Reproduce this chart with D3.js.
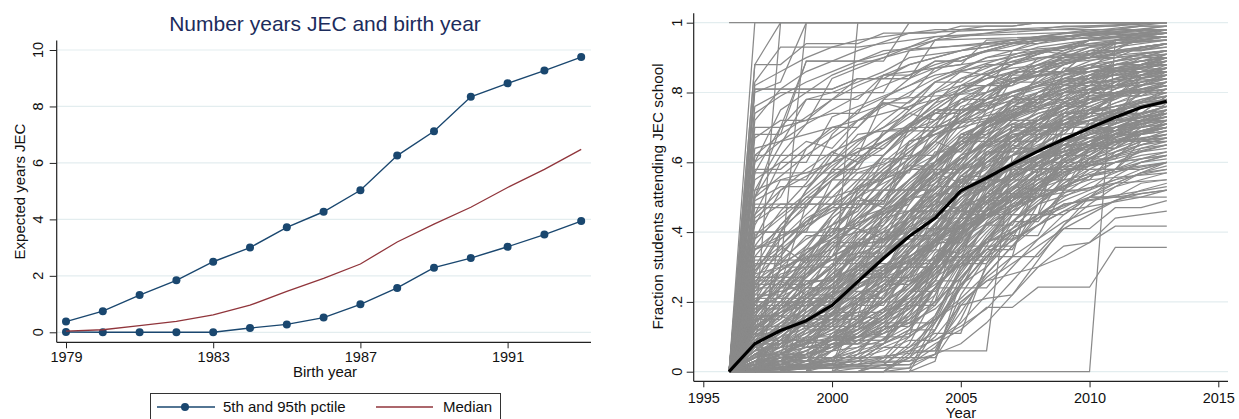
<!DOCTYPE html>
<html>
<head>
<meta charset="utf-8">
<title>JEC charts</title>
<script src="https://d3js.org/d3.v7.min.js"></script>
<style>
  body { margin: 0; background: #fff; }
  text { font-family: "Liberation Sans", Arial, Helvetica, sans-serif; }
</style>
</head>
<body>
<script>
// ---- left panel data ----
var birthYears = [1979, 1980, 1981, 1982, 1983, 1984, 1985, 1986, 1987, 1988, 1989, 1990, 1991, 1992, 1993];
var pct95 = [0.38, 0.75, 1.32, 1.84, 2.50, 3.00, 3.72, 4.27, 5.03, 6.26, 7.12, 8.34, 8.82, 9.27, 9.75];
var pct5 = [0.01, 0.00, 0.00, 0.00, 0.00, 0.15, 0.28, 0.52, 0.99, 1.57, 2.29, 2.63, 3.03, 3.46, 3.94];
var median = [0.04, 0.09, 0.24, 0.39, 0.62, 0.96, 1.45, 1.91, 2.42, 3.20, 3.83, 4.43, 5.13, 5.77, 6.48];
var leftYTicks = [0, 2, 4, 6, 8, 10];
var leftXTicks = [1979, 1983, 1987, 1991];

// ---- right panel data ----
var years = [1996, 1997, 1998, 1999, 2000, 2001, 2002, 2003, 2004, 2005, 2006, 2007, 2008, 2009, 2010, 2011, 2012, 2013];
var meanFraction = [0, 0.08, 0.118, 0.146, 0.19, 0.258, 0.325, 0.388, 0.44, 0.518, 0.555, 0.595, 0.632, 0.666, 0.698, 0.729, 0.757, 0.775];
var rightYTicks = [0, 0.2, 0.4, 0.6, 0.8, 1];
var rightYLabels = ["0", ".2", ".4", ".6", ".8", "1"];
var rightXTicks = [1995, 2000, 2005, 2010, 2015];

// schools given by change points: "yy value yy value ..." (two digit years)
var schools = [
  "96 1 13 1",
  "96 0 97 1 13 1",
  "96 0 97 .88 98 1 13 1",
  "96 0 97 .81 00 .81 01 .84 03 .84 04 .95 13 .97",
  "96 0 97 .8 98 .83 99 1 13 1",
  "96 0 97 .76 98 .8 02 .8 03 .92 07 .95 13 .98",
  "96 0 97 .68 98 .68 99 .89 02 .89 03 1 13 1",
  "96 0 97 .57 98 .7 00 .74 01 .74 02 .85 05 .88 06 .95 13 .96",
  "96 0 97 .45 98 .6 99 .6 00 .73 02 .79 04 .85 08 .9 13 .93",
  "96 0 97 .38 98 .52 00 .6 01 .68 03 .7 04 .8 06 .84 10 .9 13 .92",
  "96 0 97 .33 98 .33 99 .43 00 .5 02 .55 03 .66 05 .7 07 .8 10 .85 13 .88",
  "96 0 97 .3 98 .42 99 .5 00 .5 01 .57 03 .62 04 .7 08 .75 11 .8 13 .82",
  "96 0 97 .27 99 .27 00 .38 02 .42 03 .52 05 .61 07 .7 09 .74 11 .8 13 .84",
  "96 0 97 .25 98 .3 00 .35 01 .44 04 .52 05 .58 08 .64 10 .68 13 .71",
  "96 0 97 .22 98 .22 99 .34 00 .4 03 .48 04 .6 06 .7 09 .78 13 .86",
  "96 0 97 .2 98 .28 00 .32 02 .36 03 .45 05 .55 07 .62 09 .66 13 .7",
  "96 0 97 .18 99 .25 00 .3 01 .4 02 .45 04 .55 05 .68 08 .78 11 .86 13 .9",
  "96 0 97 .16 98 .16 99 .23 01 .3 02 .38 04 .45 06 .5 08 .58 11 .6 13 .62",
  "96 0 97 .14 98 .2 00 .2 01 .27 03 .34 04 .42 05 .5 07 .56 10 .65 13 .68",
  "96 0 97 .12 98 .17 99 .25 00 .33 02 .4 03 .5 05 .6 06 .7 08 .79 10 .83 13 .9",
  "96 0 97 .1 98 .12 00 .18 01 .25 03 .33 05 .42 07 .5 09 .55 11 .58 13 .6",
  "96 0 97 .09 99 .15 00 .22 02 .3 04 .4 05 .52 07 .6 08 .68 11 .74 13 .77",
  "96 0 97 .08 98 .08 99 .13 01 .2 02 .28 04 .35 05 .48 07 .57 09 .66 13 .76",
  "96 0 97 .06 99 .1 00 .17 01 .24 03 .3 05 .44 06 .55 08 .62 10 .7 13 .81",
  "96 0 97 .05 98 .05 00 .12 01 .2 02 .28 04 .38 06 .45 08 .5 10 .55 13 .57",
  "96 0 97 .04 98 .08 99 .12 00 .18 02 .26 03 .35 05 .5 07 .62 09 .72 13 .85",
  "96 0 97 .03 99 .06 00 .1 02 .18 03 .25 05 .38 06 .46 08 .55 11 .62 13 .66",
  "96 0 97 .02 98 .02 00 .07 02 .15 03 .22 04 .34 06 .45 08 .53 10 .6 13 .72",
  "96 0 97 .01 99 .04 01 .1 03 .18 04 .27 05 .38 07 .5 09 .6 13 .74",
  "96 0 98 .05 00 .12 02 .2 04 .3 05 .4 07 .52 10 .65 13 .75",
  "96 0 97 .5 98 .62 99 .71 00 .84 02 .9 04 .96 13 1",
  "96 0 97 .42 98 .55 99 .55 00 .68 01 .75 03 .82 05 .9 08 .95 13 .99",
  "96 0 97 .35 99 .47 00 .58 01 .65 02 .72 04 .83 06 .9 09 .93 13 .95",
  "96 0 97 .29 98 .38 00 .48 01 .6 03 .7 05 .8 07 .88 10 .93 13 .96",
  "96 0 97 .24 98 .36 99 .44 01 .52 02 .62 04 .74 06 .82 08 .88 11 .92 13 .94",
  "96 0 97 .19 98 .29 00 .39 01 .5 03 .63 04 .7 06 .78 09 .85 13 .89",
  "96 0 97 .15 98 .24 99 .32 00 .42 02 .52 04 .64 05 .73 07 .8 10 .86 13 .87",
  "96 0 97 .11 98 .18 00 .26 01 .35 02 .47 04 .58 06 .7 08 .77 10 .83 13 .85",
  "96 0 97 .07 98 .14 99 .2 01 .3 02 .4 03 .5 05 .62 06 .7 09 .8 13 .83",
  "96 0 97 .04 98 .1 99 .16 00 .24 02 .36 03 .44 04 .56 06 .66 08 .74 11 .8 13 .82",
  "96 0 97 .02 99 .08 00 .14 01 .22 03 .34 04 .42 06 .56 07 .64 10 .73 13 .78",
  "96 0 98 .03 99 .06 01 .14 02 .2 04 .3 05 .43 07 .55 09 .64 11 .7 13 .73",
  "96 0 99 .02 00 .06 02 .14 03 .22 04 .32 06 .44 08 .54 10 .6 13 .65",
  "96 0 00 .02 01 .06 02 .12 03 .2 04 .3 05 .42 07 .5 09 .58 13 .62",
  "96 0 01 .03 02 .08 03 .16 04 .28 05 .4 07 .48 10 .56 13 .6",
  "96 0 02 .02 03 .08 04 .22 05 .36 06 .42 08 .5 11 .54 13 .55",
  "96 0 02 0 03 .04 04 .15 05 .3 07 .4 09 .48 13 .52",
  "96 0 03 0 04 .12 05 .24 06 .34 08 .45 10 .5 13 .5",
  "96 0 10 0 11 .95 13 .96",
  "96 0 02 0 03 .06 06 .06 07 .62 09 .68 13 .72",
  "96 0 03 .02 04 .05 05 .19 06 .21 07 .22 08 .3 09 .33 10 .37 11 .44 13 .46",
  "96 0 03 .03 04 .08 05 .12 06 .184 07 .184 08 .242 10 .242 11 .356 13 .356",
  "96 0 04 .06 05 .2 06 .26 08 .3 09 .36 10 .37 11 .417 13 .417",
  "96 0 97 .57 03 .57 04 .7 07 .75 08 .85 13 .9",
  "96 0 97 .62 01 .62 02 .78 06 .8 07 .92 13 .95",
  "96 0 97 .48 02 .48 03 .66 06 .72 07 .84 13 .88",
  "96 0 97 .4 00 .4 01 .53 04 .6 05 .75 09 .8 13 .84",
  "96 0 97 .32 01 .32 02 .44 04 .48 05 .62 08 .7 13 .75",
  "96 0 97 .26 00 .26 01 .36 03 .4 04 .5 06 .58 07 .68 10 .72 13 .8",
  "96 0 97 .21 02 .21 03 .35 05 .44 06 .57 09 .63 13 .7",
  "96 0 97 .13 01 .13 02 .24 04 .3 05 .45 07 .52 08 .62 13 .68",
  "96 0 98 .09 02 .09 03 .2 04 .26 05 .38 07 .47 09 .57 12 .63 13 .64",
  "96 0 97 .03 02 .03 03 .1 04 .16 05 .3 06 .38 08 .48 11 .55 13 .58",
  "96 0 97 .01 03 .01 04 .14 05 .25 06 .33 08 .42 09 .48 13 .53",
  "96 0 98 .04 04 .04 05 .15 06 .3 07 .38 09 .46 12 .5 13 .52",
  "96 0 97 .72 98 .81 99 .86 01 .92 03 .97 13 1",
  "96 0 97 .6 98 .75 00 .85 01 .88 03 .92 05 .98 13 .98",
  "96 0 97 .52 98 .65 99 .78 00 .8 02 .86 03 .9 06 .93 09 .97 13 .97",
  "96 0 97 .44 98 .5 99 .64 01 .74 03 .79 04 .87 07 .9 10 .94 13 .95",
  "96 0 97 .36 98 .46 99 .54 00 .63 02 .7 03 .76 05 .84 07 .87 11 .9 13 .91",
  "96 0 97 .28 98 .4 99 .48 00 .55 02 .64 04 .77 06 .82 09 .86 13 .86",
  "96 0 97 .23 98 .32 99 .38 01 .46 02 .56 04 .66 05 .76 08 .82 13 .84",
  "96 0 97 .17 98 .22 99 .3 00 .37 02 .47 03 .55 05 .68 07 .74 10 .79 13 .81",
  "96 0 97 .1 98 .16 00 .28 01 .36 03 .46 04 .53 06 .64 08 .7 11 .76 13 .79",
  "96 0 97 .06 98 .12 99 .18 01 .28 03 .4 05 .56 07 .66 09 .74 13 .78",
  "96 0 97 .02 98 .06 00 .13 02 .25 04 .4 05 .5 07 .6 09 .69 11 .75 13 .77",
  "96 0 98 .02 99 .05 00 .09 02 .2 03 .28 05 .46 06 .54 08 .63 10 .7 13 .74",
  "96 0 99 .01 01 .06 02 .12 03 .2 04 .3 06 .47 08 .58 10 .66 13 .72",
  "96 0 00 .01 01 .04 03 .15 04 .24 05 .36 06 .46 08 .56 11 .64 13 .69",
  "96 0 97 .09 98 .13 99 .2 00 .26 01 .34 02 .42 03 .52 04 .6 05 .67 07 .76 09 .82 11 .88 13 .9",
  "96 0 97 .05 98 .09 99 .14 00 .2 01 .27 02 .34 03 .43 04 .5 05 .58 06 .65 08 .72 10 .78 13 .82",
  "96 0 97 .12 98 .2 99 .27 00 .35 01 .43 02 .5 03 .58 04 .66 05 .74 06 .8 08 .86 10 .9 13 .94",
  "96 0 97 .03 98 .05 99 .08 00 .12 01 .18 02 .24 03 .31 04 .38 05 .47 06 .53 08 .6 10 .66 13 .7",
  "96 0 97 .16 98 .26 99 .35 00 .45 01 .54 02 .62 03 .7 04 .77 05 .84 07 .9 10 .95 13 .97",
  "96 0 97 .2 98 .33 99 .42 00 .52 01 .6 02 .68 03 .75 05 .86 08 .93 13 .98",
  "96 0 97 .07 98 .1 00 .15 01 .2 02 .25 03 .3 04 .36 05 .44 06 .5 07 .56 09 .62 11 .66 13 .67",
  "96 0 97 .04 99 .07 01 .11 02 .16 03 .22 04 .28 05 .35 06 .42 08 .5 10 .56 12 .6 13 .61",
  "96 0 97 .25 98 .4 99 .52 00 .62 01 .7 02 .78 03 .84 05 .9 08 .96 13 1",
  "96 0 97 .14 98 .22 99 .28 00 .33 01 .4 02 .46 03 .53 04 .6 05 .66 06 .72 08 .78 11 .84 13 .86",
  "96 0 97 .83 98 .93 01 .93 02 .94 04 .96 13 .98",
  "96 0 97 .5 98 .7 99 .89 01 .89 02 .92 13 .97",
  "96 0 97 .12 98 1 13 1",
  "96 0 97 .1 98 .3 99 1 13 1",
  "96 0 97 .2 00 .2 01 1 13 1"
];

// schools given year by year, 1996-2013, in percent
var schoolsYearly = [
  "0 35 38 45 52 58 60 66 72 78 80 84 86 88 90 91 93 94",
  "0 28 30 36 44 50 57 63 70 74 79 83 85 89 90 92 92 93",
  "0 22 29 33 40 47 55 61 66 73 78 80 83 86 88 90 91 92",
  "0 18 24 30 38 44 52 58 65 71 76 79 82 85 87 89 90 91",
  "0 15 20 27 33 41 47 55 62 69 74 77 80 83 85 88 89 90",
  "0 12 18 24 30 38 45 52 60 67 72 76 80 82 86 87 88 89",
  "0 10 15 21 27 34 42 49 57 64 70 74 78 81 84 86 87 88",
  "0 8 13 18 25 32 39 46 54 61 66 72 75 79 82 84 86 87",
  "0 6 11 16 22 29 36 43 51 58 64 69 73 76 80 82 84 86",
  "0 5 9 14 20 26 33 40 48 56 62 67 71 75 78 81 83 85",
  "0 4 7 12 18 24 30 37 45 53 59 64 69 73 76 79 81 83",
  "0 3 6 10 15 21 27 34 42 50 56 62 67 71 74 77 80 82",
  "0 2 5 8 13 18 24 31 39 47 53 59 64 69 72 75 78 80",
  "0 1 3 6 10 15 21 28 36 44 51 57 62 66 70 73 76 78",
  "0 0 2 4 8 12 18 25 33 42 49 55 60 64 68 71 74 76",
  "0 0 1 3 6 10 15 22 30 39 46 52 58 62 66 69 72 74",
  "0 40 40 40 55 55 55 70 70 82 82 82 90 90 90 95 95 95",
  "0 25 25 48 48 48 61 61 75 75 75 86 86 86 92 92 96 96",
  "0 12 30 30 30 52 52 52 52 68 68 78 78 78 85 85 85 88",
  "0 5 5 22 22 40 40 40 58 58 72 72 72 80 80 86 86 86",
  "0 30 36 31 44 50 47 60 66 63 75 79 77 85 88 86 90 92",
  "0 20 26 22 35 41 38 50 57 54 66 71 69 77 80 79 84 85",
  "0 9 16 13 25 31 28 42 49 46 60 65 63 72 76 74 80 81",
  "0 3 9 7 17 23 21 34 41 40 53 59 57 66 70 69 74 76",
  "0 0 4 3 11 16 15 27 35 34 47 53 52 61 65 64 69 71",
  "0 45 52 58 63 60 68 74 72 80 85 83 88 91 90 94 96 97",
  "0 55 60 66 64 72 77 75 83 86 85 90 92 91 95 97 96 98",
  "0 16 16 16 16 16 38 38 38 38 63 63 63 63 80 80 80 80",
  "0 2 2 2 2 20 20 20 20 45 45 45 45 70 70 70 70 75",
  "0 0 0 0 10 10 10 10 33 33 33 33 58 58 58 58 66 66",
  "0 33 42 49 55 61 66 70 74 77 80 82 85 86 88 89 90 90",
  "0 7 19 28 36 43 49 55 60 64 68 71 74 76 78 80 81 82",
  "0 0 12 21 29 37 44 50 56 61 65 69 72 75 77 79 80 81",
  "0 0 0 8 17 26 34 42 49 55 60 64 68 71 73 75 77 78",
  "0 0 0 0 6 14 22 31 40 48 55 60 64 67 70 72 73 74",
  "0 0 0 0 0 5 13 22 32 42 50 56 61 65 68 70 72 73",
  "0 0 0 0 0 0 4 12 24 36 45 52 58 62 65 67 69 70",
  "0 0 0 0 0 0 0 5 16 29 39 47 53 57 61 63 65 66",
  "0 1 1 2 3 5 8 12 20 32 42 50 56 60 63 66 68 69",
  "0 2 3 5 7 9 12 16 22 35 46 54 60 65 68 71 73 74",
  "0 4 6 8 10 12 15 19 26 40 52 60 66 71 74 77 79 80",
  "0 6 8 11 14 17 20 24 31 45 57 66 72 77 81 84 86 87",
  "0 9 12 15 18 22 26 30 38 52 64 72 78 83 87 89 91 92",
  "0 13 17 21 25 29 34 39 47 60 71 78 84 88 91 93 95 96",
  "0 24 29 34 39 44 49 55 62 71 78 83 87 90 93 95 96 97",
  "0 38 44 50 56 61 66 71 76 81 85 88 91 93 95 96 97 98",
  "0 60 66 71 75 79 82 85 88 90 92 94 95 96 97 98 98 99",
  "0 70 70 78 78 84 84 88 90 92 93 95 96 96 97 98 99 99",
  "0 18 18 26 26 34 34 44 44 56 56 66 66 74 74 80 80 83",
  "0 11 11 19 19 28 28 36 36 48 48 58 58 65 65 70 70 72",
  "0 7 14 14 14 30 30 30 46 46 46 60 60 60 72 72 72 77",
  "0 27 27 34 41 41 52 52 63 63 70 77 77 84 84 88 88 90",
  "0 47 47 47 58 58 69 69 69 78 78 86 86 86 92 92 92 94",
  "0 14 22 29 37 37 43 50 50 59 66 66 72 76 76 79 82 83",
  "0 3 3 12 12 12 25 25 37 37 50 50 50 62 62 68 68 70",
  "0 1 1 1 8 8 8 19 19 31 31 43 43 52 52 58 58 60",
  "0 0 0 3 3 9 9 17 26 26 36 36 45 45 50 50 54 55",
  "0 0 0 0 2 2 7 7 14 24 24 33 33 41 41 47 47 49",
  "0 0 0 0 0 1 1 4 10 19 27 33 38 43 46 49 51 52",
  "0 0 0 0 0 0 2 2 7 17 28 36 42 46 50 53 55 57",
  "0 0 0 0 0 0 0 1 5 22 33 41 48 53 57 60 62 63",
  "0 0 0 0 0 0 0 0 3 26 38 47 54 59 63 66 68 69",
  "0 0 0 1 1 2 4 6 12 25 30 40 45 50 54 57 60 62",
  "0 0 1 2 3 5 7 10 15 20 26 31 36 41 45 49 52 54",
  "0 2 4 6 9 12 16 20 25 31 37 43 49 54 58 62 65 67",
  "0 5 10 15 20 24 29 33 37 41 45 49 53 56 59 62 65 67",
  "0 10 17 22 28 33 38 43 47 51 55 58 61 64 66 69 71 72",
  "0 17 24 28 32 36 40 44 48 52 56 59 62 65 68 70 72 73",
  "0 26 31 35 38 42 46 50 54 58 62 66 69 72 74 76 78 79",
  "0 35 39 42 46 50 54 58 62 66 70 73 76 78 80 82 83 84",
  "0 52 55 57 60 63 66 69 72 75 77 79 81 83 84 85 86 87",
  "0 64 66 68 70 72 74 76 78 80 82 84 85 86 87 88 89 90",
  "0 88 88 94 94 94 97 97 97 99 99 99 100 100 100 100 100 100",
  "0 81 81 81 81 84 84 84 89 89 92 92 95 95 97 97 98 98",
  "0 0 40 52 60 66 70 74 78 81 84 86 88 90 91 92 93 94",
  "0 0 25 36 45 52 58 63 68 72 75 78 80 82 84 85 86 87",
  "0 0 0 30 42 51 58 64 69 73 77 80 82 84 86 88 89 90",
  "0 0 0 18 30 39 47 54 60 65 69 73 76 79 81 83 85 86",
  "0 0 0 0 22 34 44 52 59 65 70 74 78 81 84 86 88 89",
  "0 0 0 0 0 20 34 45 54 62 68 73 77 80 83 85 87 88",
  "0 8 8 15 15 15 27 27 41 41 55 55 68 68 75 75 80 80",
  "0 14 19 19 28 33 33 45 51 51 63 68 68 78 82 82 88 88",
  "0 4 9 9 9 21 26 26 38 44 44 57 62 62 71 74 74 79",
  "0 1 4 7 7 12 18 18 29 36 36 49 55 55 64 68 68 71",
  "0 19 19 24 31 31 39 46 46 57 63 63 73 77 77 83 86 86",
  "0 31 31 39 39 49 49 58 58 67 67 76 76 82 82 88 88 91",
  "0 43 48 48 55 62 62 70 75 75 82 86 86 90 93 93 95 96",
  "0 58 58 64 70 70 77 77 83 83 88 88 92 92 95 95 97 98",
  "0 67 72 72 78 78 85 85 89 89 92 94 94 96 97 97 98 98",
  "0 2 2 6 10 10 16 23 23 33 42 42 53 60 60 67 71 72",
  "0 6 13 13 20 27 27 36 44 44 56 64 64 73 78 78 83 85",
  "0 11 16 21 21 31 36 36 47 53 53 65 70 70 79 82 82 86",
  "0 0 5 10 15 15 24 30 30 42 49 49 60 65 65 72 76 77",
  "0 0 0 5 9 14 14 23 30 30 43 50 50 60 65 65 70 71",
  "0 0 0 0 4 9 13 13 24 32 32 45 52 52 61 66 66 68",
  "0 0 0 0 0 3 8 12 12 27 35 35 48 55 55 63 66 67",
  "0 0 0 0 0 0 2 7 11 11 31 39 39 52 58 58 64 65",
  "0 1 3 5 8 8 11 14 14 29 37 45 45 56 61 61 68 70",
  "0 23 27 27 33 37 37 46 51 51 60 66 66 75 79 79 85 87",
  "0 36 36 43 47 47 55 59 59 67 72 72 80 84 84 89 91 92",
  "0 49 53 53 59 64 64 71 74 74 80 83 83 88 90 90 93 94",
  "0 16 25 25 30 38 38 44 53 53 61 69 69 74 81 81 86 89",
  "0 9 9 19 19 29 29 39 39 52 52 64 64 73 73 80 80 82",
  "0 5 5 5 17 17 17 32 32 32 51 51 51 67 67 67 76 76",
  "0 13 13 13 13 31 31 31 31 55 55 55 55 74 74 74 74 79",
  "0 24 24 24 24 24 46 46 46 46 46 71 71 71 71 71 85 85",
  "0 3 7 12 16 21 25 30 37 43 50 55 61 66 70 74 77 79",
  "0 1 2 4 7 11 16 22 29 37 44 51 57 62 66 70 73 75",
  "0 0 1 2 4 7 11 17 24 32 40 47 53 58 62 66 69 71",
  "0 7 11 16 21 27 33 40 47 54 61 67 72 76 80 83 85 86",
  "0 12 18 24 30 37 44 51 58 65 71 76 80 84 87 89 91 92",
  "0 18 24 31 38 45 53 60 67 73 78 83 86 89 91 93 94 95",
  "0 27 34 41 48 55 62 69 75 80 85 88 91 93 95 96 97 98",
  "0 5 7 9 11 14 18 22 28 34 41 48 54 59 64 68 71 73",
  "0 9 12 14 17 20 23 28 33 39 45 51 56 61 65 69 72 74",
  "0 15 17 19 22 25 28 32 37 42 48 53 58 63 67 70 73 75",
  "0 21 23 25 27 30 33 37 41 46 51 56 61 65 69 72 74 76",
  "0 2 5 9 14 19 23 26 30 33 37 40 44 47 51 54 57 59",
  "0 4 9 14 19 24 28 32 36 40 44 47 50 53 56 58 61 63",
  "0 0 2 5 9 13 17 21 27 32 37 41 45 49 52 55 58 60",
  "0 10 14 18 24 29 34 40 45 51 57 62 67 71 75 78 81 83",
  "0 6 11 17 22 28 35 42 49 56 62 67 71 75 78 80 82 84",
  "0 0 0 2 6 11 17 24 32 40 48 55 61 66 71 74 77 79",
  "0 0 3 3 8 8 14 14 24 24 38 38 52 52 64 64 72 72",
  "0 3 3 10 10 19 19 30 30 44 44 58 58 70 70 79 79 83",
  "0 7 7 16 16 27 27 41 41 56 56 70 70 80 80 87 87 90",
  "0 12 12 24 24 37 37 52 52 66 66 78 78 87 87 92 92 94",
  "0 20 20 33 33 48 48 62 62 75 75 85 85 91 91 95 95 96",
  "0 0 8 16 23 23 23 35 46 54 54 62 69 69 74 79 79 81",
  "0 15 15 28 36 36 36 48 57 57 66 72 72 77 82 82 85 87",
  "0 0 1 1 2 2 3 3 5 8 14 22 32 42 50 56 60 62",
  "0 1 1 2 2 3 4 6 9 13 18 26 34 42 48 53 57 60",
  "0 2 2 3 4 6 8 11 15 21 28 36 44 51 56 60 63 65",
  "0 3 4 5 7 10 13 18 24 31 38 45 52 58 62 66 68 70",
  "0 1 2 2 4 4 6 9 9 14 22 30 38 45 50 54 57 58",
  "0 4 5 7 8 10 11 14 18 25 33 41 48 54 59 63 66 68",
  "0 6 7 8 9 10 12 15 20 27 35 43 50 56 61 65 69 71",
  "0 2 4 5 6 7 9 13 19 28 38 46 53 59 64 68 71 73",
  "0 82 86 90 93 95 96 97 98 98 99 99 100 100 100 100 100 100",
  "0 74 79 83 86 89 91 93 95 96 97 98 98 99 99 99 100 100",
  "0 62 68 73 78 82 85 88 90 92 94 95 96 97 98 98 99 99",
  "0 50 56 62 67 72 76 80 84 87 90 92 94 95 96 97 98 98",
  "0 39 45 51 57 63 68 73 78 82 86 89 91 93 95 96 97 97",
  "0 29 35 41 47 53 59 65 71 77 82 86 89 92 94 95 96 97",
  "0 20 26 32 38 45 52 59 66 72 78 83 87 90 92 94 95 96",
  "0 13 18 24 30 37 44 51 59 66 72 78 82 86 89 91 93 94",
  "0 8 12 17 23 29 36 44 52 60 67 73 78 82 85 88 90 92",
  "0 4 7 11 16 22 29 37 45 54 62 69 75 80 84 87 89 91",
  "0 1 3 6 10 15 21 29 38 48 57 65 71 76 80 84 87 89",
  "0 0 1 3 6 10 15 22 31 41 51 60 67 73 77 81 84 87"
];

function parseSchool(s) {
  var t = s.split(" ").map(Number), pts = [];
  for (var i = 0; i < t.length; i += 2) pts.push([t[i] < 50 ? 2000 + t[i] : 1900 + t[i], t[i + 1]]);
  return pts;
}
function parseYearly(s) {
  return s.split(" ").map(function(v, i) { return [years[i], +v / 100]; });
}

var navy = "#1a476f", maroon = "#90353b", gridCol = "#e3edef", axisCol = "#222";

var svg = d3.select("body").append("svg")
  .attr("width", 1239).attr("height", 419);

// ===================== LEFT PANEL =====================
var xL = d3.scaleLinear().domain([1979, 1993]).range([66, 581.2]);
var yL = d3.scaleLinear().domain([0, 10]).range([332.3, 50]);
var left = svg.append("g");

// gridlines
left.selectAll(".gridL").data(leftYTicks).enter().append("line")
  .attr("x1", 57).attr("x2", 591)
  .attr("y1", function(d) { return yL(d); }).attr("y2", function(d) { return yL(d); })
  .attr("stroke", gridCol).attr("stroke-width", 1.2);

// title
left.append("text").attr("x", 325).attr("y", 30.5).attr("text-anchor", "middle")
  .attr("font-size", "21px").attr("fill", "#1c2c5c").text("Number years JEC and birth year");

// y axis
var yAxisL = left.append("g").attr("transform", "translate(56.7,0)")
  .call(d3.axisLeft(yL).tickValues(leftYTicks).tickSize(7).tickFormat(""));
yAxisL.select(".domain").remove();
yAxisL.selectAll("line").attr("stroke", axisCol);
left.append("line").attr("x1", 56.7).attr("x2", 56.7).attr("y1", 40.5).attr("y2", 342.3).attr("stroke", axisCol).attr("stroke-width", 1.2);
left.selectAll(".ylabL").data(leftYTicks).enter().append("text")
  .attr("transform", function(d) { return "translate(43.3," + yL(d) + ") rotate(-90)"; })
  .attr("text-anchor", "middle").attr("font-size", "14.5px").attr("fill", "#111")
  .text(function(d) { return d; });
left.append("text").attr("transform", "translate(25,191.5) rotate(-90)")
  .attr("text-anchor", "middle").attr("font-size", "15px").attr("fill", "#111")
  .text("Expected years JEC");

// x axis
var xAxisL = left.append("g").attr("transform", "translate(0,342.3)")
  .call(d3.axisBottom(xL).tickValues(leftXTicks).tickSize(6).tickPadding(3).tickFormat(d3.format("d")));
xAxisL.select(".domain").remove();
xAxisL.selectAll("line").attr("stroke", axisCol);
xAxisL.selectAll("text").attr("font-size", "14.5px").attr("fill", "#111")
  .attr("font-family", "Liberation Sans, Arial, sans-serif");
left.append("line").attr("x1", 56.7).attr("x2", 591).attr("y1", 342.3).attr("y2", 342.3).attr("stroke", axisCol).attr("stroke-width", 1.2);
left.append("text").attr("x", 325).attr("y", 377).attr("text-anchor", "middle")
  .attr("font-size", "15px").attr("fill", "#111").text("Birth year");

// series
var lineL = d3.line().x(function(d) { return xL(d[0]); }).y(function(d) { return yL(d[1]); });
[pct95, pct5].forEach(function(vals) {
  var pts = birthYears.map(function(y, i) { return [y, vals[i]]; });
  left.append("path").attr("d", lineL(pts)).attr("fill", "none").attr("stroke", navy).attr("stroke-width", 1.4);
  left.selectAll(null).data(pts).enter().append("circle")
    .attr("cx", function(d) { return xL(d[0]); }).attr("cy", function(d) { return yL(d[1]); })
    .attr("r", 4).attr("fill", navy);
});
left.append("path").attr("d", lineL(birthYears.map(function(y, i) { return [y, median[i]]; })))
  .attr("fill", "none").attr("stroke", maroon).attr("stroke-width", 1.3);

// legend
var leg = left.append("g");
leg.append("rect").attr("x", 150.5).attr("y", 393.5).attr("width", 350).attr("height", 40)
  .attr("fill", "#fff").attr("stroke", "#333").attr("stroke-width", 1);
leg.append("line").attr("x1", 157).attr("x2", 215).attr("y1", 407).attr("y2", 407).attr("stroke", navy).attr("stroke-width", 1.4);
leg.append("circle").attr("cx", 185).attr("cy", 407).attr("r", 4).attr("fill", navy);
leg.append("text").attr("x", 223).attr("y", 411.5).attr("font-size", "15px").attr("fill", "#111").text("5th and 95th pctile");
leg.append("line").attr("x1", 376).attr("x2", 433).attr("y1", 407).attr("y2", 407).attr("stroke", maroon).attr("stroke-width", 1.3);
leg.append("text").attr("x", 443).attr("y", 411.5).attr("font-size", "15px").attr("fill", "#111").text("Median");

// ===================== RIGHT PANEL =====================
var xR = d3.scaleLinear().domain([1995, 2015]).range([703.3, 1218.3]);
var yR = d3.scaleLinear().domain([0, 1]).range([371.7, 22.7]);
var right = svg.append("g");

right.selectAll(".gridR").data(rightYTicks).enter().append("line")
  .attr("x1", 694).attr("x2", 1228)
  .attr("y1", function(d) { return yR(d); }).attr("y2", function(d) { return yR(d); })
  .attr("stroke", gridCol).attr("stroke-width", 1.2);

var lineR = d3.line().x(function(d) { return xR(d[0]); }).y(function(d) { return yR(d[1]); });
var allSchools = schools.map(parseSchool).concat(schoolsYearly.map(parseYearly));
right.selectAll(".school").data(allSchools).enter().append("path")
  .attr("d", lineR).attr("fill", "none").attr("stroke", "#8a8a8a").attr("stroke-width", 1.25);

right.append("path").attr("d", lineR(years.map(function(y, i) { return [y, meanFraction[i]]; })))
  .attr("fill", "none").attr("stroke", "#000").attr("stroke-width", 3.2).attr("stroke-linejoin", "round");

var yAxisR = right.append("g").attr("transform", "translate(693.7,0)")
  .call(d3.axisLeft(yR).tickValues(rightYTicks).tickSize(7).tickFormat(""));
yAxisR.select(".domain").remove();
yAxisR.selectAll("line").attr("stroke", axisCol);
right.append("line").attr("x1", 693.7).attr("x2", 693.7).attr("y1", 13.3).attr("y2", 381.3).attr("stroke", axisCol).attr("stroke-width", 1.2);
right.selectAll(".ylabR").data(rightYTicks).enter().append("text")
  .attr("transform", function(d) { return "translate(681.7," + yR(d) + ") rotate(-90)"; })
  .attr("text-anchor", "middle").attr("font-size", "14.5px").attr("fill", "#111")
  .text(function(d, i) { return rightYLabels[i]; });
right.append("text").attr("transform", "translate(662.5,196.5) rotate(-90)")
  .attr("text-anchor", "middle").attr("font-size", "15.3px").attr("fill", "#111")
  .text("Fraction students attending JEC school");

var xAxisR = right.append("g").attr("transform", "translate(0,381.3)")
  .call(d3.axisBottom(xR).tickValues(rightXTicks).tickSize(6).tickPadding(5).tickFormat(d3.format("d")));
xAxisR.select(".domain").remove();
xAxisR.selectAll("line").attr("stroke", axisCol);
xAxisR.selectAll("text").attr("font-size", "14.5px").attr("fill", "#111")
  .attr("font-family", "Liberation Sans, Arial, sans-serif");
right.append("line").attr("x1", 693.7).attr("x2", 1228).attr("y1", 381.3).attr("y2", 381.3).attr("stroke", axisCol).attr("stroke-width", 1.2);
right.append("text").attr("x", 961).attr("y", 417.5).attr("text-anchor", "middle")
  .attr("font-size", "15px").attr("fill", "#111").text("Year");
</script>
</body>
</html>
